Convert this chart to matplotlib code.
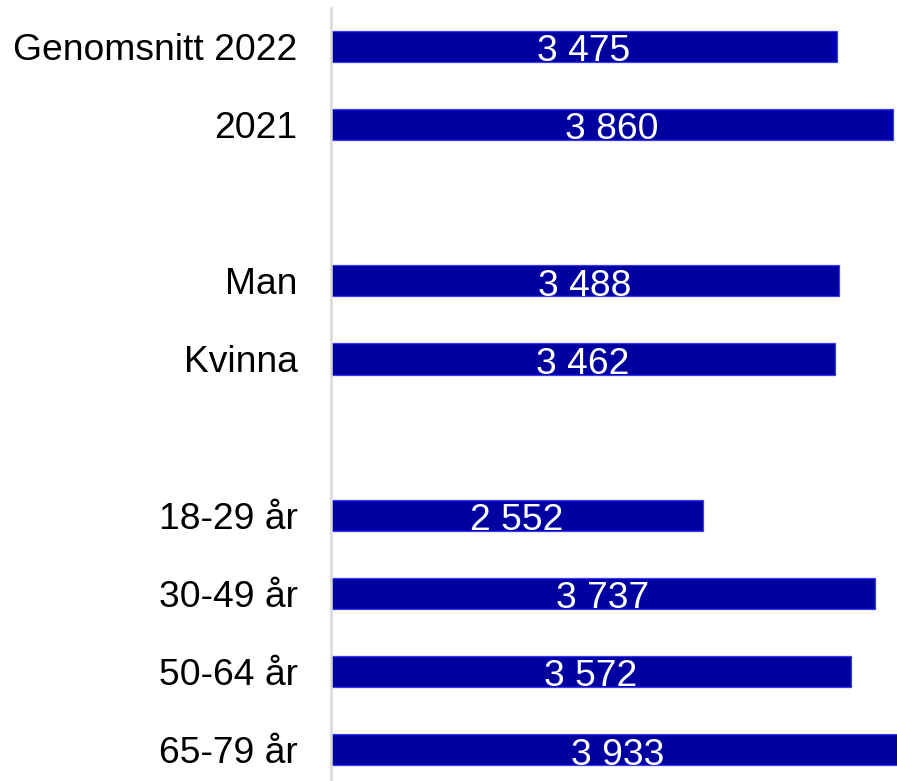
import matplotlib
matplotlib.use("Agg")
from matplotlib import pyplot as plt

# categories and values
labels = ['Genomsnitt 2022', '2021', 'Man', 'Kvinna',
          '18-29 år', '30-49 år', '50-64 år', '65-79 år']
values = [3475, 3860, 3488, 3462, 2552, 3737, 3572, 3933]
rows = [0, 1, 3, 4, 6, 7, 8, 9]  # empty slots between groups

plt.rcParams['font.family'] = ['Liberation Sans', 'DejaVu Sans']

fig = plt.figure(figsize=(8.97, 7.81), dpi=100)
ax = fig.add_axes([331 / 897, 0, 1 - 331 / 897, 1 - 8 / 781])

ax.barh(rows, values, height=0.4, color='#0000a0',
        edgecolor='#3a3aff', linewidth=0.9)

for r, v in zip(rows, values):
    txt = f'{v:,}'.replace(',', ' ')
    ax.text(v / 2, r + 0.19, txt, ha='center', va='baseline',
            color='white', fontsize=26.8, clip_on=False)

ax.set_xlim(0, 3888)
ax.set_ylim(9.4, -0.49)
ax.set_yticks(rows)
ax.set_yticklabels(labels, fontsize=26.8)
ax.set_xticks([])
ax.tick_params(axis='y', length=0, pad=24)

for s in ['top', 'right', 'bottom']:
    ax.spines[s].set_visible(False)
ax.spines['left'].set_color('#d9d9d9')
ax.spines['left'].set_linewidth(1.8)

fig.savefig('out.png', dpi=100)
